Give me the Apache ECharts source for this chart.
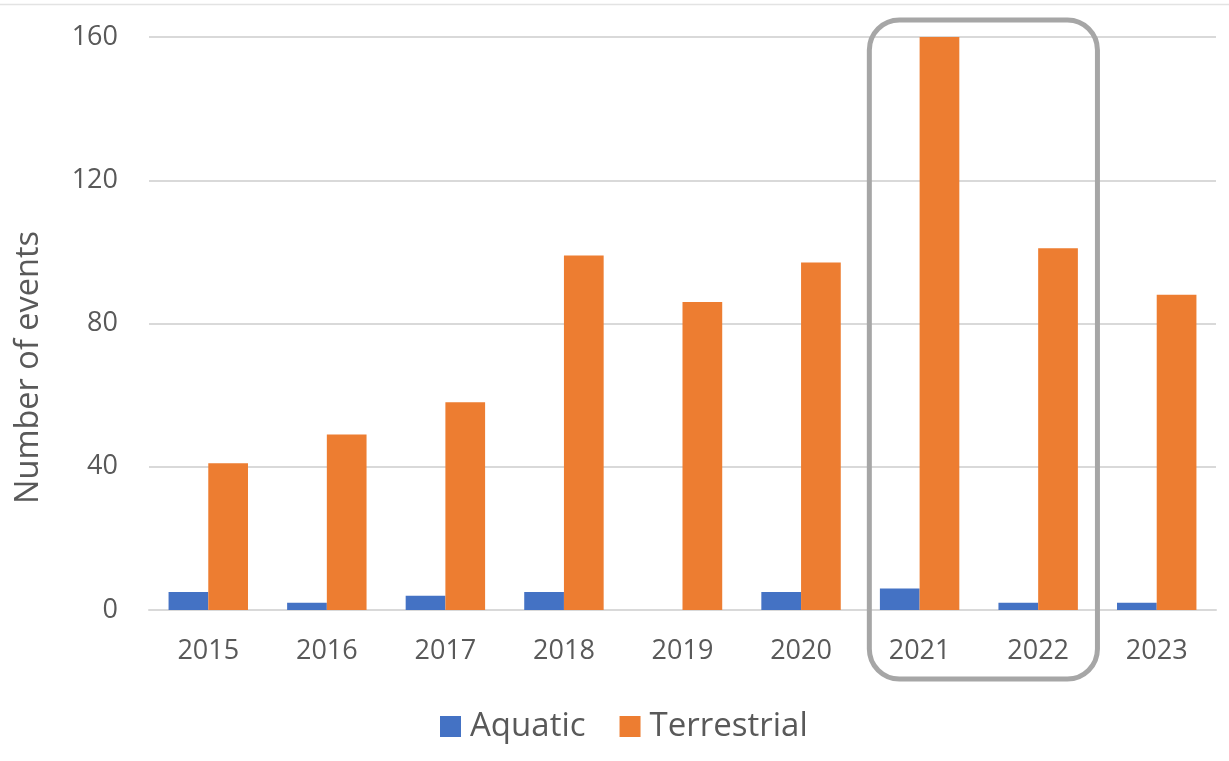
<!DOCTYPE html>
<html>
<head>
<meta charset="utf-8">
<title>Number of events</title>
<script src="https://cdn.jsdelivr.net/npm/echarts@6/dist/echarts.min.js"></script>
<style>
  html, body { margin: 0; padding: 0; background: #fff; }
  #chart { width: 1229px; height: 761px; }
</style>
</head>
<body>
<div id="chart"></div>
<script>
// data
var years = ['2015', '2016', '2017', '2018', '2019', '2020', '2021', '2022', '2023'];
var aquatic = [5, 2, 4, 5, 0, 5, 6, 2, 2];
var terrestrial = [41, 49, 58, 99, 86, 97, 160, 101, 88];
var yTicks = [0, 40, 80, 120, 160];
var highlightYears = ['2021', '2022'];

var textColor = '#595959';
var gridColor = '#d9d9d9';
var fontName = '"Open Sans", "Noto Sans", sans-serif';

var chart = echarts.init(document.getElementById('chart'), null, { renderer: 'canvas' });

var option = {
  animation: false,
  backgroundColor: '#fff',
  grid: { left: 149, right: 13, top: 37, bottom: 151, containLabel: false },
  legend: {
    bottom: 13,
    left: 435,
    itemWidth: 21,
    itemHeight: 21,
    itemGap: 34,
    icon: 'rect',
    textStyle: { color: textColor, fontSize: 33, fontFamily: fontName, padding: [0, 0, 0, 4] },
    data: ['Aquatic', 'Terrestrial']
  },
  xAxis: {
    type: 'category',
    data: years,
    axisTick: { show: false },
    axisLine: { show: true, lineStyle: { color: gridColor, width: 2 } },
    axisLabel: { color: textColor, fontSize: 27, fontFamily: fontName, margin: 28 }
  },
  yAxis: {
    type: 'value',
    min: yTicks[0],
    max: yTicks[yTicks.length - 1],
    interval: yTicks[1] - yTicks[0],
    name: 'Number of events',
    nameLocation: 'middle',
    nameGap: 104,
    // the title sits a bit below the middle of the plot
    nameTextStyle: { color: textColor, fontSize: 32.5, fontFamily: fontName, padding: [0, 88, 0, 0] },
    axisLine: { show: false },
    axisTick: { show: false },
    axisLabel: { color: textColor, fontSize: 27, fontFamily: fontName, margin: 31 },
    splitLine: { lineStyle: { color: gridColor, width: 2 } }
  },
  series: [
    {
      name: 'Aquatic',
      type: 'bar',
      data: aquatic,
      barWidth: '33.5%',
      barGap: '0%',
      itemStyle: { color: '#4472C4' }
    },
    {
      name: 'Terrestrial',
      type: 'bar',
      data: terrestrial,
      barWidth: '33.5%',
      barGap: '0%',
      itemStyle: { color: '#ED7D31' }
    }
  ]
};

chart.setOption(option);

// rounded box around the highlighted years, placed from the axis scales
function drawHighlight() {
  var c0 = chart.convertToPixel({ xAxisIndex: 0 }, highlightYears[0]);
  var c1 = chart.convertToPixel({ xAxisIndex: 0 }, highlightYears[highlightYears.length - 1]);
  var band = chart.convertToPixel({ xAxisIndex: 0 }, years[1]) - chart.convertToPixel({ xAxisIndex: 0 }, years[0]);
  var yTop = chart.convertToPixel({ yAxisIndex: 0 }, yTicks[yTicks.length - 1]);
  var x0 = c0 - band / 2 + 9;
  var x1 = c1 + band / 2;
  var y0 = yTop - 17;
  var y1 = 679;
  chart.setOption({
    graphic: [
      {
        type: 'line',
        shape: { x1: 0, y1: 4.5, x2: 1229, y2: 4.5 },
        style: { stroke: '#e3e3e3', lineWidth: 1.5 },
        silent: true
      },
      {
        type: 'rect',
        shape: { x: x0, y: y0, width: x1 - x0, height: y1 - y0, r: 30 },
        style: { fill: null, stroke: '#a6a6a6', lineWidth: 5 },
        z: 100,
        silent: true
      }
    ]
  });
}
drawHighlight();
</script>
</body>
</html>
